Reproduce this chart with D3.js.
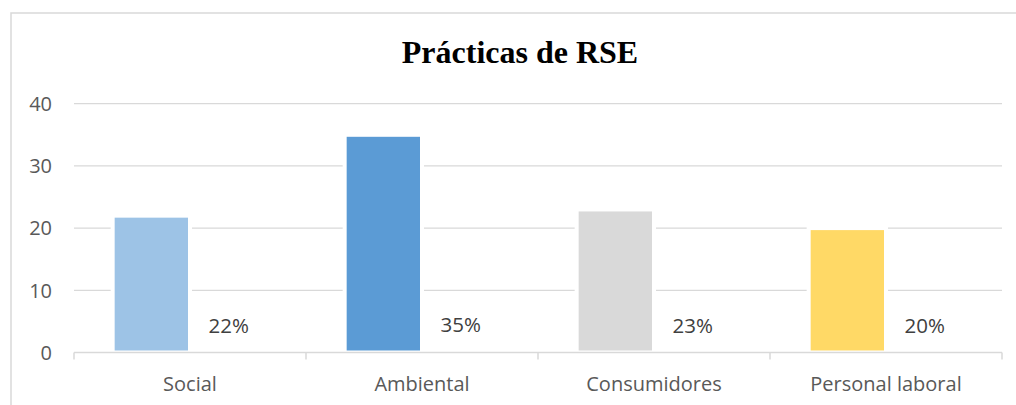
<!DOCTYPE html>
<html lang="es">
<head>
  <meta charset="utf-8">
  <title>Prácticas de RSE</title>
  <style>
    body { margin: 0; background: #fff; }
    #chart { width: 1016px; height: 405px; }
    .title { font-family: "Liberation Serif", "Times New Roman", serif; font-weight: bold; font-size: 32px; fill: #000; }
    .tick-label { font-family: "Open Sans", sans-serif; font-size: 20px; fill: #595959; }
    .data-label { font-family: "Open Sans", sans-serif; font-size: 20.5px; fill: #404040; }
  </style>
</head>
<body>

<div id="chart"></div>

<script src="https://d3js.org/d3.v7.min.js"></script>
<script>
  // Datos
  var categorias = ["Social", "Ambiental", "Consumidores", "Personal laboral"];
  var valores    = [22, 35, 23, 20];
  var porcentajes = [0.22, 0.35, 0.23, 0.20];
  var colores    = ["#9DC3E6", "#5B9BD5", "#D9D9D9", "#FFD966"];
  var ticksY     = [0, 10, 20, 30, 40];
  var series     = ["valor", "porcentaje"];

  var width = 1016, height = 405;

  var svg = d3.select("#chart").append("svg")
      .attr("width", width)
      .attr("height", height);

  // Marco del gráfico (se corta a la derecha y abajo)
  svg.append("rect")
      .attr("x", 11).attr("y", 13)
      .attr("width", 1200).attr("height", 600)
      .attr("fill", "none")
      .attr("stroke", "#d9d9d9")
      .attr("stroke-width", 1.5);

  // Escalas
  var x = d3.scaleBand()
      .domain(categorias)
      .range([74, 1002])
      .paddingInner(0)
      .paddingOuter(0);

  var xSerie = d3.scaleBand()
      .domain(series)
      .range([0, x.bandwidth()])
      .paddingInner(0)
      .paddingOuter(0.5);

  var y = d3.scaleLinear()
      .domain([0, 40])
      .range([352.5, 103.7]);

  // Líneas de cuadrícula
  svg.append("g")
    .selectAll("line")
    .data(ticksY.filter(function(d) { return d > 0; }))
    .enter().append("line")
      .attr("x1", 74).attr("x2", 1002)
      .attr("y1", function(d) { return y(d); })
      .attr("y2", function(d) { return y(d); })
      .attr("stroke", "#d9d9d9")
      .attr("stroke-width", 1.3);

  // Etiquetas del eje Y
  svg.append("g")
    .selectAll("text")
    .data(ticksY)
    .enter().append("text")
      .attr("class", "tick-label")
      .attr("x", 52)
      .attr("y", function(d) { return y(d); })
      .attr("dy", "0.36em")
      .attr("text-anchor", "end")
      .text(function(d) { return d; });

  // Barras
  svg.append("g")
    .selectAll("rect")
    .data(categorias)
    .enter().append("rect")
      .attr("x", function(d) { return x(d) + xSerie("valor"); })
      .attr("y", function(d, i) { return y(valores[i]); })
      .attr("width", xSerie.bandwidth())
      .attr("height", function(d, i) { return y(0) - y(valores[i]); })
      .attr("fill", function(d, i) { return colores[i]; })
      .attr("stroke", "#fff")
      .attr("stroke-width", 4);

  // Eje X
  var ejeX = d3.axisBottom(x).tickSize(0).tickFormat("");
  var gx = svg.append("g")
      .attr("transform", "translate(0," + y(0) + ")")
      .call(ejeX);
  gx.select(".domain").attr("stroke", "#d9d9d9").attr("stroke-width", 1.5)
      .attr("d", "M74,0H1002");
  gx.selectAll(".tick").remove();

  var divisiones = categorias.map(function(d) { return x(d); }).concat([x.range()[1]]);
  gx.selectAll(".div")
    .data(divisiones)
    .enter().append("line")
      .attr("x1", function(d) { return d; })
      .attr("x2", function(d) { return d; })
      .attr("y1", 0).attr("y2", 7)
      .attr("stroke", "#d9d9d9")
      .attr("stroke-width", 1.5);

  svg.append("g")
    .selectAll("text")
    .data(categorias)
    .enter().append("text")
      .attr("class", "tick-label")
      .attr("x", function(d) { return x(d) + x.bandwidth() / 2; })
      .attr("y", 391)
      .attr("text-anchor", "middle")
      .text(function(d) { return d; });

  // Etiquetas de porcentaje (segunda serie)
  svg.append("g")
    .selectAll("text")
    .data(categorias)
    .enter().append("text")
      .attr("class", "data-label")
      .attr("x", function(d) { return x(d) + xSerie("porcentaje") + xSerie.bandwidth() / 2; })
      .attr("y", function(d, i) { return y(porcentajes[i]) - 18; })
      .attr("text-anchor", "middle")
      .text(function(d, i) { return Math.round(porcentajes[i] * 100) + "%"; });

  // Título
  svg.append("text")
      .attr("class", "title")
      .attr("x", 520)
      .attr("y", 63)
      .attr("text-anchor", "middle")
      .text("Prácticas de RSE");
</script>
</body>
</html>
